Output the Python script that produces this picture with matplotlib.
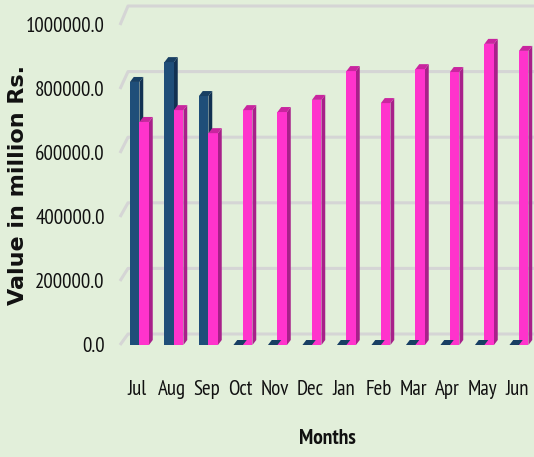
import matplotlib
matplotlib.use("Agg")
import matplotlib.pyplot as plt
from matplotlib.patches import Polygon
import numpy as np

months = ["Jul", "Aug", "Sep", "Oct", "Nov", "Dec", "Jan", "Feb", "Mar", "Apr", "May", "Jun"]
series_prev = [822000, 884000, 778000, 0, 0, 0, 0, 0, 0, 0, 0, 0]
series_curr = [697000, 734000, 662000, 734000, 728000, 766000, 856000, 756000, 862000, 853000, 941000, 919000]
yticks = [0, 200000, 400000, 600000, 800000, 1000000]
ytick_labels = ["0.0", "200000.0", "400000.0", "600000.0", "800000.0", "1000000.0"]

BG = "#E2EFDA"
W, H = 534, 457
fig = plt.figure(figsize=(W / 100, H / 100), dpi=100, facecolor=BG)

ax_left, ax_bottom_px = 120, 345
ax = fig.add_axes([ax_left / W, (H - ax_bottom_px) / H, (W - ax_left) / W, ax_bottom_px / H])
ax.set_facecolor(BG)
px_per_unit_y = 320 / 1e6
ymax = ax_bottom_px / px_per_unit_y
ax.set_ylim(0, ymax)
ax.set_xlim(-0.5, 11.5)
for s in ax.spines.values():
    s.set_visible(False)

xpx = (W - ax_left) / 12.0
def dxu(px):
    return px / xpx
def dyu(px):
    return px / px_per_unit_y

# back-wall gridlines with left side-wall diagonal
for t in yticks:
    off = dyu(11 + 8 * t / 1e6)
    ax.plot([-0.5, -0.5 + dxu(8), 11.5], [t, t + off, t + off],
            color="#D5D5D5", lw=2.2, zorder=1, solid_capstyle="butt", clip_on=False)

x = np.arange(len(months))
bw = dxu(9.5)
dx = dxu(3.8)
dy = dyu(5)

def draw_3d(lefts, vals, front, side, top):
    ax.bar(lefts, vals, width=bw, align="edge", color=front, linewidth=0, zorder=3)
    for xl, v in zip(lefts, vals):
        xr = xl + bw
        ax.add_patch(Polygon([(xr, 0), (xr + dx, dy), (xr + dx, v + dy), (xr, v)],
                             closed=True, facecolor=side, edgecolor="none", zorder=2.9))
        ax.add_patch(Polygon([(xl, v), (xr, v), (xr + dx, v + dy), (xl + dx, v + dy)],
                             closed=True, facecolor=top, edgecolor="none", zorder=3.1))

draw_3d(x - dxu(7.3), series_prev, "#1F4E79", "#123152", "#183F63")
draw_3d(x - dxu(7.3) + bw, series_curr, "#FF33CC", "#A8208A", "#C9259F")

narrow = ["PT Sans Narrow", "Carlito", "DejaVu Sans"]
ax.set_xticks(x)
ax.set_xticklabels(months)
ax.set_yticks(yticks)
ax.set_yticklabels(ytick_labels)
ax.tick_params(axis="x", length=0, pad=25, labelsize=15)
ax.tick_params(axis="y", length=0, pad=11, labelsize=15)
for lab in ax.get_xticklabels() + ax.get_yticklabels():
    lab.set_family(narrow)
    lab.set_color("#111111")

fig.text(18 / W, 1 - 185 / H, "Value in million Rs.", rotation=90, ha="center", va="center",
         fontsize=16, fontweight="bold", family="DejaVu Sans", color="#111111")
fig.text(327 / W, 1 - 439 / H, "Months", ha="center", va="center",
         fontsize=15.5, fontweight="bold", family=narrow, color="#111111")

fig.savefig("out.png", dpi=100, facecolor=BG)
